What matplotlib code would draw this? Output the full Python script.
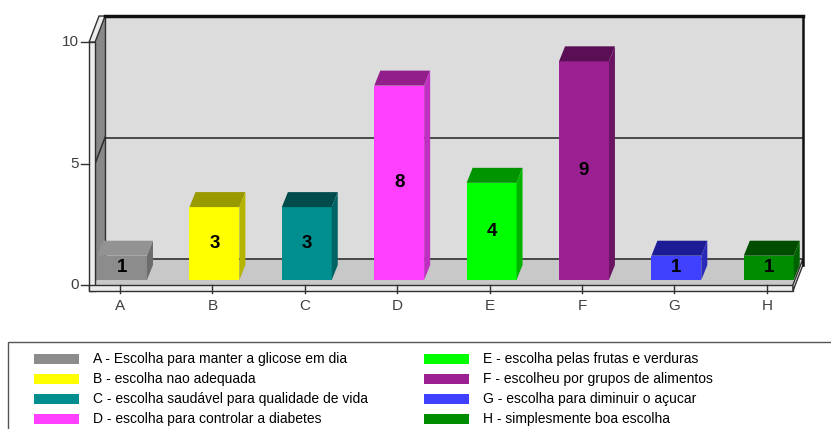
import matplotlib.pyplot as plt
from matplotlib.patches import Polygon, Rectangle

categorias = ['A', 'B', 'C', 'D', 'E', 'F', 'G', 'H']
valores = [1, 3, 3, 8, 4, 9, 1, 1]
legendas = [
    'A - Escolha para manter a glicose em dia',
    'B - escolha nao adequada',
    'C - escolha saudável para qualidade de vida',
    'D - escolha para controlar a diabetes',
    'E - escolha pelas frutas e verduras',
    'F - escolheu por grupos de alimentos',
    'G - escolha para diminuir o açucar',
    'H - simplesmente boa escolha',
]
cor_frente = ['#8c8c8c', '#ffff00', '#008e8e', '#ff40ff', '#00ff00', '#9b2092', '#4040ff', '#008c00']
cor_topo = ['#939393', '#999900', '#004c4c', '#921e8c', '#009400', '#5a0f55', '#1c1c96', '#004d00']
cor_lado = ['#6c6c6c', '#b5b500', '#006464', '#c030c0', '#00b400', '#6a1463', '#2a2ab8', '#006200']
yticks = [0, 5, 10]

plt.rcParams['font.family'] = ['Liberation Sans Narrow', 'Liberation Sans', 'DejaVu Sans']

fig = plt.figure(figsize=(8.31, 4.29), dpi=100)
ax = fig.add_axes([50 / 831, 109 / 429, 765 / 831, 312 / 429])
ax.set_xlim(-0.758, 7.522)
ax.set_ylim(-1.44, 11.40)
ax.axis('off')

# geometria do "3D"
x0, x1 = -0.27, 7.283       # frente esquerda / direita
DX, DY = 0.108, 1.07        # profundidade das paredes
ex, ey = 0.065, 0.247       # espessura parede / piso
bx, by = 0.0216, 0.206      # deslocamento das barras
w = 0.54
ddx, ddy = 0.065, 0.617     # profundidade das barras
linha = '#303030'

# parede do fundo, parede lateral, piso
ax.add_patch(Polygon([(x0 + DX, DY), (x0 + DX, 10 + DY), (x1 + DX, 10 + DY), (x1 + DX, DY)],
                     fc='#dcdcdc', ec='none', zorder=1))
ax.add_patch(Polygon([(x0, 0), (x0, 10), (x0 + DX, 10 + DY), (x0 + DX, DY)],
                     fc='#888888', ec='none', zorder=1))
ax.add_patch(Polygon([(x0, 0), (x0 + DX, DY), (x1 + DX, DY), (x1, 0)],
                     fc='#c8c8c8', ec='none', zorder=1))

# espessura da parede esquerda e do piso
ax.add_patch(Rectangle((x0 - ex, -ey), ex, 10 + ey, fc='#ececec', ec=linha, lw=1, zorder=2))
ax.add_patch(Polygon([(x0 - ex, 10), (x0, 10), (x0 + DX, 10 + DY), (x0 - ex + DX, 10 + DY)],
                     fc='#ececec', ec=linha, lw=1, zorder=2))
ax.add_patch(Rectangle((x0 - ex, -ey), x1 - x0 + ex, ey, fc='#ececec', ec=linha, lw=1, zorder=2))
ax.add_patch(Polygon([(x1, -ey), (x1, 0), (x1 + DX, DY), (x1 + DX, DY - ey)],
                     fc='#ececec', ec=linha, lw=1, zorder=2))

# linhas de grade e bordas
ax.plot([x0 + DX, x1 + DX], [5 + DY, 5 + DY], color=linha, lw=1.2, zorder=1.5)
ax.plot([x0, x0 + DX], [5, 5 + DY], color=linha, lw=1.2, zorder=1.5)
ax.plot([x0 + DX, x1 + DX], [DY, DY], color=linha, lw=1.2, zorder=1.5)
ax.plot([x0 + DX, x0 + DX], [DY, 10 + DY], color=linha, lw=1, zorder=1.5)
ax.plot([x0 + DX, x1 + DX], [10 + DY, 10 + DY], color='#111111', lw=2.5, zorder=2.5)
ax.plot([x1 + DX, x1 + DX], [DY - ey, 10 + DY], color='#111111', lw=1.8, zorder=2.5)

# ticks
for v in yticks:
    ax.plot([x0 - ex - 0.09, x0 - ex], [v, v], color=linha, lw=1, zorder=2)
    ax.text(x0 - ex - 0.11, v, str(v), ha='right', va='center', fontsize=11,
            color='#404040', family=['Liberation Sans', 'DejaVu Sans'])
for i, c in enumerate(categorias):
    ax.plot([i, i], [0, -0.33], color=linha, lw=1, zorder=2.5)
    ax.text(i, -0.86, c, ha='center', va='center', fontsize=11,
            color='#404040', family=['Liberation Sans', 'DejaVu Sans'])

# barras
xs = [i + bx for i in range(len(valores))]
ax.bar(xs, valores, w, bottom=by, color=cor_frente, zorder=3)
for i, v in enumerate(valores):
    esq, dir_ = xs[i] - w / 2, xs[i] + w / 2
    top = by + v
    ax.add_patch(Polygon([(esq, top), (esq + ddx, top + ddy), (dir_ + ddx, top + ddy), (dir_, top)],
                         fc=cor_topo[i], ec='none', zorder=3))
    ax.add_patch(Polygon([(dir_, by), (dir_, top), (dir_ + ddx, top + ddy), (dir_ + ddx, by + ddy)],
                         fc=cor_lado[i], ec='none', zorder=3))
    ax.text(xs[i], by + v / 2, str(v), ha='center', va='center', fontsize=13.5,
            fontweight='bold', color='black', zorder=4)

# legenda
lg = fig.add_axes([0, 0, 1, 1])
lg.set_xlim(0, 831)
lg.set_ylim(429, 0)
lg.axis('off')
lg.add_patch(Rectangle((8, 342), 840, 100, fc='white', ec='#555555', lw=1))
linhas_y = [358.5, 379, 399, 419]
for k, txt in enumerate(legendas):
    col, row = divmod(k, 4)
    sx = 34 if col == 0 else 424
    tx = 93 if col == 0 else 483
    lg.add_patch(Rectangle((sx, linhas_y[row] - 5), 45, 10, fc=cor_frente[k], ec='none'))
    lg.text(tx, linhas_y[row], txt, ha='left', va='center', fontsize=10, color='black')

fig.savefig('out.png', dpi=100, facecolor='white')
